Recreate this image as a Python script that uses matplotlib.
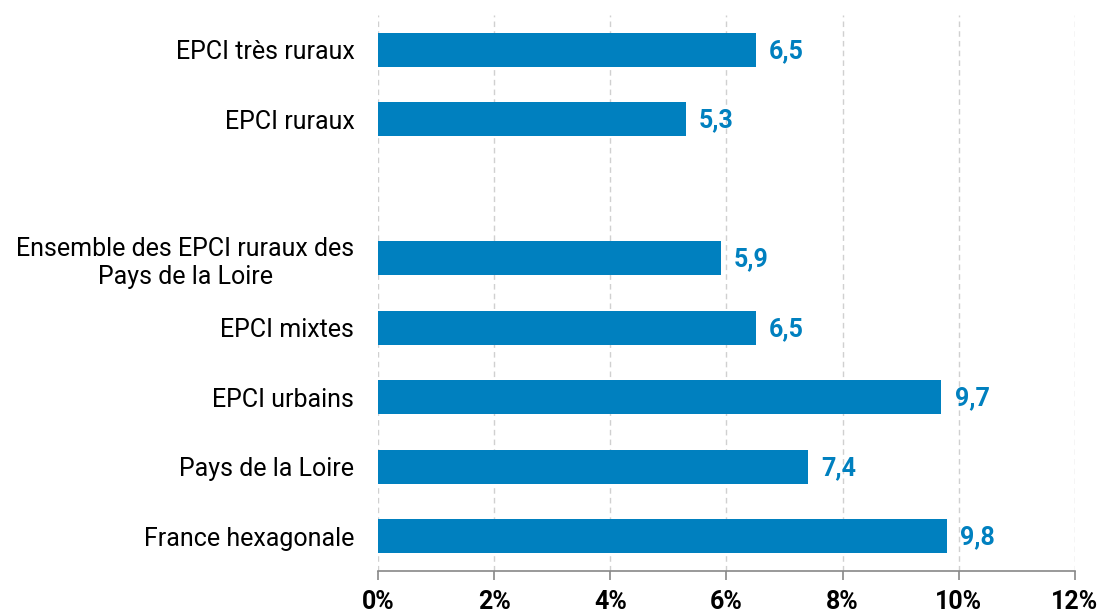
import matplotlib.pyplot as plt

plt.rcParams['font.family'] = ['Roboto', 'DejaVu Sans']

# categories top to bottom, "" = empty slot between groups
labels = ["EPCI très ruraux", "EPCI ruraux", "",
          "Ensemble des EPCI ruraux des\nPays de la Loire",
          "EPCI mixtes", "EPCI urbains", "Pays de la Loire", "France hexagonale"]
values = [6.5, 5.3, None, 5.9, 6.5, 9.7, 7.4, 9.8]
xticks = [0, 2, 4, 6, 8, 10, 12]

bar_color = "#0080BF"

fig = plt.figure(figsize=(11.02, 6.13), dpi=100)
ax = fig.add_axes([0.343, 0.0685, 0.6325, 0.907])

pos = [i for i, v in enumerate(values) if v is not None]
vals = [v for v in values if v is not None]
ax.barh(pos, vals, height=0.49, color=bar_color, zorder=3)
for p, v in zip(pos, vals):
    ax.annotate(f"{v:.1f}".replace(".", ","), (v, p), xytext=(9.5, -1),
                textcoords="offset points", va="center", ha="left",
                fontsize=18, fontweight="bold", color=bar_color)

ax.set_ylim(7.5, -0.5)
ax.set_xlim(0, 12)
ax.set_yticks(range(len(labels)))
ax.set_yticklabels(labels, fontsize=18, ha="right", multialignment="center")
ax.tick_params(axis="y", length=0, pad=17)
ax.set_xticks(xticks)
ax.set_xticklabels([f"{t}%" for t in xticks], fontsize=18, fontweight="bold")
ax.tick_params(axis="x", length=6.5, width=1.2, color="#888888", pad=7)

ax.grid(axis="x", color="#d0d0d0", linestyle=(0, (4, 3)), linewidth=1, zorder=0)
for s in ["top", "right", "left"]:
    ax.spines[s].set_visible(False)
ax.spines["bottom"].set_color("#888888")
ax.spines["bottom"].set_linewidth(1.2)

fig.savefig("out.png", dpi=100)
